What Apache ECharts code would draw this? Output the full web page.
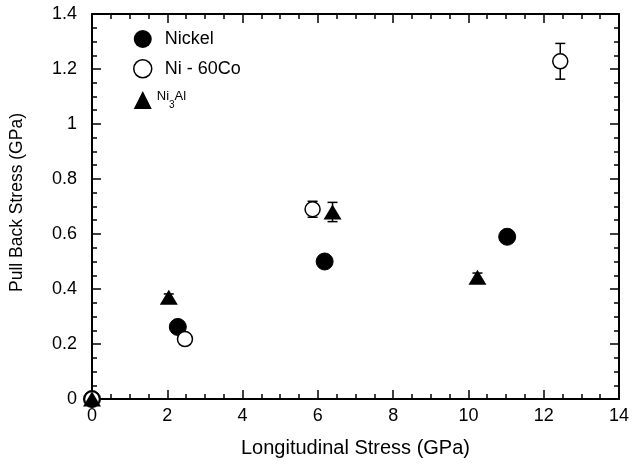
<!DOCTYPE html>
<html><head><meta charset="utf-8">
<script src="https://cdn.jsdelivr.net/npm/echarts@6/dist/echarts.min.js"></script>
<style>html,body{margin:0;padding:0;background:#fff}#c{width:632px;height:464px}</style>
</head><body><div id="c"></div>
<script>
// data: [x, y, errorHalfWidth]
var nickel = [[0, 0, 0], [2.28, 0.262, 0], [6.18, 0.50, 0], [11.03, 0.59, 0.022]];
var ni60co = [[0, 0, 0], [2.47, 0.218, 0], [5.86, 0.69, 0.029], [12.44, 1.228, 0.065]];
var ni3al = [[0, 0, 0], [2.04, 0.37, 0.012], [6.39, 0.68, 0.035], [10.24, 0.443, 0.015]];
var xTicks = {min: 0, max: 14, interval: 2};
var yTicks = {min: 0, max: 1.4, interval: 0.2};

var font = 'Liberation Sans, Arial, sans-serif';
var chart = echarts.init(document.getElementById('c'), null, {renderer: 'canvas'});

function errSeries(data, name) {
  return {
    type: 'custom', name: name, silent: true, clip: false, z: 1,
    data: data.filter(function (d) { return d[2] > 0; }),
    encode: {x: 0, y: 1},
    renderItem: function (params, api) {
      var x = api.value(0), y = api.value(1), e = api.value(2);
      var top = api.coord([x, y + e]);
      var bot = api.coord([x, y - e]);
      var w = 5;
      var st = {stroke: '#000', lineWidth: 1.5};
      return {type: 'group', children: [
        {type: 'line', shape: {x1: top[0], y1: top[1], x2: bot[0], y2: bot[1]}, style: st},
        {type: 'line', shape: {x1: top[0] - w, y1: top[1], x2: top[0] + w, y2: top[1]}, style: st},
        {type: 'line', shape: {x1: bot[0] - w, y1: bot[1], x2: bot[0] + w, y2: bot[1]}, style: st}
      ]};
    }
  };
}

var axisCommon = {
  axisLine: {show: true, onZero: false, lineStyle: {color: '#000', width: 2}},
  axisTick: {show: true, inside: true, length: 9, lineStyle: {color: '#000', width: 1.5}},
  minorTick: {show: true, splitNumber: 4, length: 5, lineStyle: {color: '#000', width: 1.5}},
  splitLine: {show: false}
};

var option = {
  animation: false,
  backgroundColor: '#fff',
  grid: {left: 92, right: 12, top: 14, bottom: 65, containLabel: false},
  legend: {
    orient: 'vertical', left: 128, top: 25, itemGap: 11, itemWidth: 18, itemHeight: 18,
    data: [
      {name: 'Nickel', icon: 'circle', itemStyle: {color: '#000', borderColor: '#000'}},
      {name: 'Ni - 60Co', icon: 'circle', itemStyle: {color: '#fff', borderColor: '#000', borderWidth: 1.5}},
      {name: 'Ni3Al', icon: 'triangle', itemStyle: {color: '#000'}}
    ],
    formatter: function (n) {
      if (n === 'Ni3Al') return '{s|Ni}{sub|3}{s|Al}';
      return '{m|' + n + '}';
    },
    textStyle: {
      fontFamily: font, color: '#000',
      rich: {
        m: {fontSize: 18, fontFamily: font, color: '#000', padding: [0, 0, 0, 8]},
        s: {fontSize: 13, fontFamily: font, color: '#000', verticalAlign: 'top', padding: [0, 0, 8, 0]},
        sub: {fontSize: 10, fontFamily: font, color: '#000', verticalAlign: 'bottom', padding: [9, 0, 0, 0]}
      }
    }
  },
  xAxis: [
    Object.assign({
      type: 'value', position: 'bottom', min: xTicks.min, max: xTicks.max, interval: xTicks.interval,
      name: 'Longitudinal Stress (GPa)', nameLocation: 'middle', nameGap: 39,
      nameTextStyle: {fontSize: 20, fontFamily: font, color: '#000'},
      axisLabel: {fontSize: 18, fontFamily: font, color: '#000', margin: 8}
    }, axisCommon),
    Object.assign({
      type: 'value', position: 'top', min: xTicks.min, max: xTicks.max, interval: xTicks.interval,
      axisLabel: {show: false}
    }, axisCommon)
  ],
  yAxis: [
    Object.assign({
      type: 'value', position: 'left', min: yTicks.min, max: yTicks.max, interval: yTicks.interval,
      name: 'Pull Back Stress (GPa)', nameLocation: 'middle', nameGap: 66, nameRotate: 90,
      nameTextStyle: {fontSize: 17.5, fontFamily: font, color: '#000', padding: [0, 0, 0, 8]},
      axisLabel: {fontSize: 18, fontFamily: font, color: '#000', margin: 15}
    }, axisCommon),
    Object.assign({
      type: 'value', position: 'right', min: yTicks.min, max: yTicks.max, interval: yTicks.interval,
      axisLabel: {show: false}
    }, axisCommon)
  ],
  series: [
    errSeries(nickel, 'eNickel'),
    errSeries(ni60co, 'eCo'),
    errSeries(ni3al, 'eAl'),
    {name: 'Nickel', type: 'scatter', clip: false, z: 2, symbol: 'circle', symbolSize: 17,
     itemStyle: {color: '#000', borderColor: '#000', opacity: 1}, data: nickel.map(function (d) { return [d[0], d[1]]; })},
    {name: 'Ni - 60Co', type: 'scatter', clip: false, z: 3, symbol: 'circle', symbolSize: 15,
     itemStyle: {color: '#fff', borderColor: '#000', borderWidth: 1.5, opacity: 1}, data: ni60co.map(function (d) { return [d[0], d[1]]; })},
    {name: 'Ni3Al', type: 'scatter', clip: false, z: 4, symbol: 'triangle', symbolSize: [18, 15],
     itemStyle: {color: '#000', opacity: 1}, data: ni3al.map(function (d) { return [d[0], d[1]]; })}
  ]
};
chart.setOption(option);
</script>
</body></html>
